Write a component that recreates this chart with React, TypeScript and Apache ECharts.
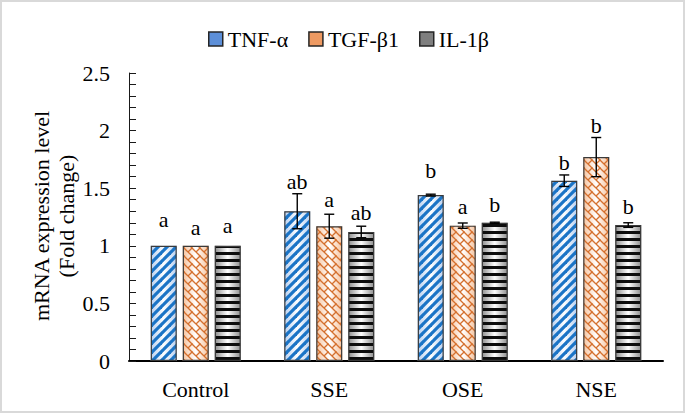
import React, { useEffect, useRef } from "react";
import * as echarts from "echarts";

const categories = ["Control", "SSE", "OSE", "NSE"];
const seriesNames = ["TNF-α", "TGF-β1", "IL-1β"];
const tnfValues = [1.0, 1.3, 1.44, 1.565];
const tgfValues = [1.0, 1.17, 1.175, 1.77];
const ilValues = [1.0, 1.12, 1.2, 1.18];
const tnfErrors = [0, 0.152, 0.008, 0.05];
const tgfErrors = [0, 0.104, 0.023, 0.17];
const ilErrors = [0, 0.05, 0.005, 0.02];
const tnfLetters = ["a", "ab", "b", "b"];
const tgfLetters = ["a", "a", "a", "b"];
const ilLetters = ["a", "ab", "b", "b"];
// heights (in fold-change units) of the significance letters' baselines
const tnfLetterAt = [1.18, 1.51, 1.6, 1.675];
const tgfLetterAt = [1.11, 1.35, 1.29, 1.99];
const ilLetterAt = [1.12, 1.24, 1.31, 1.29];
const yMin = 0;
const yMax = 2.5;
const yInterval = 0.5;

const FONT = "Liberation Serif";
const BAR_W = 26;
const BAR_GAP = 6;

function makeTile(w: number, h: number, draw: (ctx: CanvasRenderingContext2D) => void) {
  const c = document.createElement("canvas");
  c.width = w;
  c.height = h;
  const ctx = c.getContext("2d")!;
  draw(ctx);
  return { image: c, repeat: "repeat", imageWidth: w, imageHeight: h } as any;
}

export default function App() {
  const ref = useRef<HTMLDivElement>(null);
  useEffect(() => {
    if (!ref.current) return;
    const chart = echarts.init(ref.current, null, { renderer: "svg" });

    const blueTile = makeTile(9, 9, (ctx) => {
      ctx.strokeStyle = "#1b74c6";
      ctx.lineWidth = 3.2;
      for (let k = -1; k <= 1; k++) {
        ctx.beginPath();
        ctx.moveTo(-2, 9 + 2 + 9 * k);
        ctx.lineTo(11, -2 + 9 * k);
        ctx.stroke();
      }
    });
    const orangeTile = makeTile(8, 8, (ctx) => {
      ctx.strokeStyle = "#d4702e";
      ctx.lineWidth = 1.3;
      for (let k = -1; k <= 1; k++) {
        ctx.beginPath();
        ctx.moveTo(-2, -2 + 8 * k);
        ctx.lineTo(10, 10 + 8 * k);
        ctx.stroke();
      }
      ctx.beginPath();
      ctx.moveTo(4, 4);
      ctx.lineTo(8.5, -0.5);
      ctx.stroke();
      ctx.beginPath();
      ctx.moveTo(-0.5, 8.5);
      ctx.lineTo(0.5, 7.5);
      ctx.stroke();
    });
    const blackTile = makeTile(4, 7, (ctx) => {
      ctx.fillStyle = "#0d0d0d";
      ctx.fillRect(0, 0, 4, 3);
    });

    const grad = (edge: string) =>
      new echarts.graphic.LinearGradient(0, 0, 1, 0, [
        { offset: 0, color: edge },
        { offset: 0.5, color: "#ffffff" },
        { offset: 1, color: edge },
      ]);

    const values = [tnfValues, tgfValues, ilValues];
    const errors = [tnfErrors, tgfErrors, ilErrors];
    const letters = [tnfLetters, tgfLetters, ilLetters];
    const letterAt = [tnfLetterAt, tgfLetterAt, ilLetterAt];
    const tiles = [blueTile, orangeTile, blackTile];
    const edges = ["#b7cff0", "#f6c29c", "#8c8c8c"];
    const legendColors = ["#5d8fd8", "#ee9a62", "#7f7f7f"];

    const underlay = values.map((v, i) => ({
      type: "bar",
      name: "bg" + i,
      xAxisIndex: 0,
      barWidth: BAR_W,
      barGap: (BAR_GAP / BAR_W) * 100 + "%",
      data: v,
      silent: true,
      z: 1,
      itemStyle: { color: grad(edges[i]) },
    }));
    const overlay = values.map((v, i) => ({
      type: "bar",
      name: seriesNames[i],
      xAxisIndex: 1,
      barWidth: BAR_W,
      barGap: (BAR_GAP / BAR_W) * 100 + "%",
      data: v,
      z: 2,
      itemStyle: { color: tiles[i], borderColor: "#3a3a3a", borderWidth: 1.2 },
    }));
    const errSeries = values.map((v, si) => ({
      type: "custom",
      xAxisIndex: 0,
      yAxisIndex: 0,
      z: 5,
      silent: true,
      data: v.map((val, i) => [i, val, errors[si][i], letterAt[si][i]]),
      renderItem: (params: any, api: any) => {
        const ci = api.value(0);
        const val = api.value(1);
        const e = api.value(2);
        const la = api.value(3);
        const x = api.coord([ci, val])[0] + (si - 1) * (BAR_W + BAR_GAP);
        const children: any[] = [];
        if (e > 0) {
          const yT = api.coord([ci, val + e])[1];
          const yB = api.coord([ci, val - e])[1];
          const st = { stroke: "#000", lineWidth: 1.4 };
          children.push({ type: "line", shape: { x1: x, y1: yT, x2: x, y2: yB }, style: st });
          children.push({ type: "line", shape: { x1: x - 5, y1: yT, x2: x + 5, y2: yT }, style: st });
          children.push({ type: "line", shape: { x1: x - 5, y1: yB, x2: x + 5, y2: yB }, style: st });
        }
        const yL = api.coord([ci, la])[1];
        children.push({
          type: "text",
          style: {
            text: letters[si][params.dataIndex],
            x,
            y: yL + 5,
            align: "center",
            verticalAlign: "bottom",
            font: `22px ${FONT}`,
            fill: "#000",
          },
        });
        return { type: "group", children };
      },
    }));

    chart.setOption({
      animation: false,
      backgroundColor: "#ffffff",
      grid: { left: 129, right: 22, top: 73, bottom: 52, containLabel: false },
      legend: {
        left: 203,
        top: 23,
        itemWidth: 14,
        itemHeight: 14,
        itemGap: 20,
        icon: "rect",
        textStyle: { fontFamily: FONT, fontSize: 22, color: "#000" },
        data: seriesNames.map((n, i) => ({
          name: n,
          itemStyle: { color: legendColors[i], borderColor: "#262626", borderWidth: 1.5 },
        })),
      },
      xAxis: [
        {
          type: "category",
          data: categories,
          axisLine: { show: true, lineStyle: { color: "#000", width: 2 } },
          axisTick: { show: false },
          axisLabel: { fontFamily: FONT, fontSize: 22, color: "#000", margin: 17 },
          splitLine: { show: false },
        },
        {
          type: "category",
          data: categories,
          show: false,
          position: "bottom",
        },
      ],
      yAxis: {
        type: "value",
        min: yMin,
        max: yMax,
        interval: yInterval,
        axisLine: { show: true, lineStyle: { color: "#1a1a1a", width: 1 } },
        axisTick: { show: true, inside: true, length: 7, lineStyle: { color: "#1a1a1a" } },
        minorTick: { show: true, splitNumber: 5, length: 7, lineStyle: { color: "#1a1a1a" } },
        splitLine: { show: false },
        axisLabel: { fontFamily: FONT, fontSize: 22, color: "#000", margin: 19 },
      },
      graphic: [
        {
          type: "rect",
          shape: { x: 1, y: 1, width: 683, height: 411 },
          style: { fill: "none", stroke: "#d9d9d9", lineWidth: 2 },
          silent: true,
        },
        {
          type: "text",
          x: 54,
          y: 216,
          rotation: Math.PI / 2,
          style: {
            text: "mRNA expression level\n(Fold change)",
            align: "center",
            verticalAlign: "middle",
            font: `22px ${FONT}`,
            lineHeight: 25,
            fill: "#000",
          },
        },
      ],
      series: [...underlay, ...overlay, ...errSeries],
    } as any);

    return () => chart.dispose();
  }, []);

  return (
    <div
      ref={ref}
      style={{ position: "fixed", left: 0, top: 0, width: 685, height: 413 }}
    />
  );
}
